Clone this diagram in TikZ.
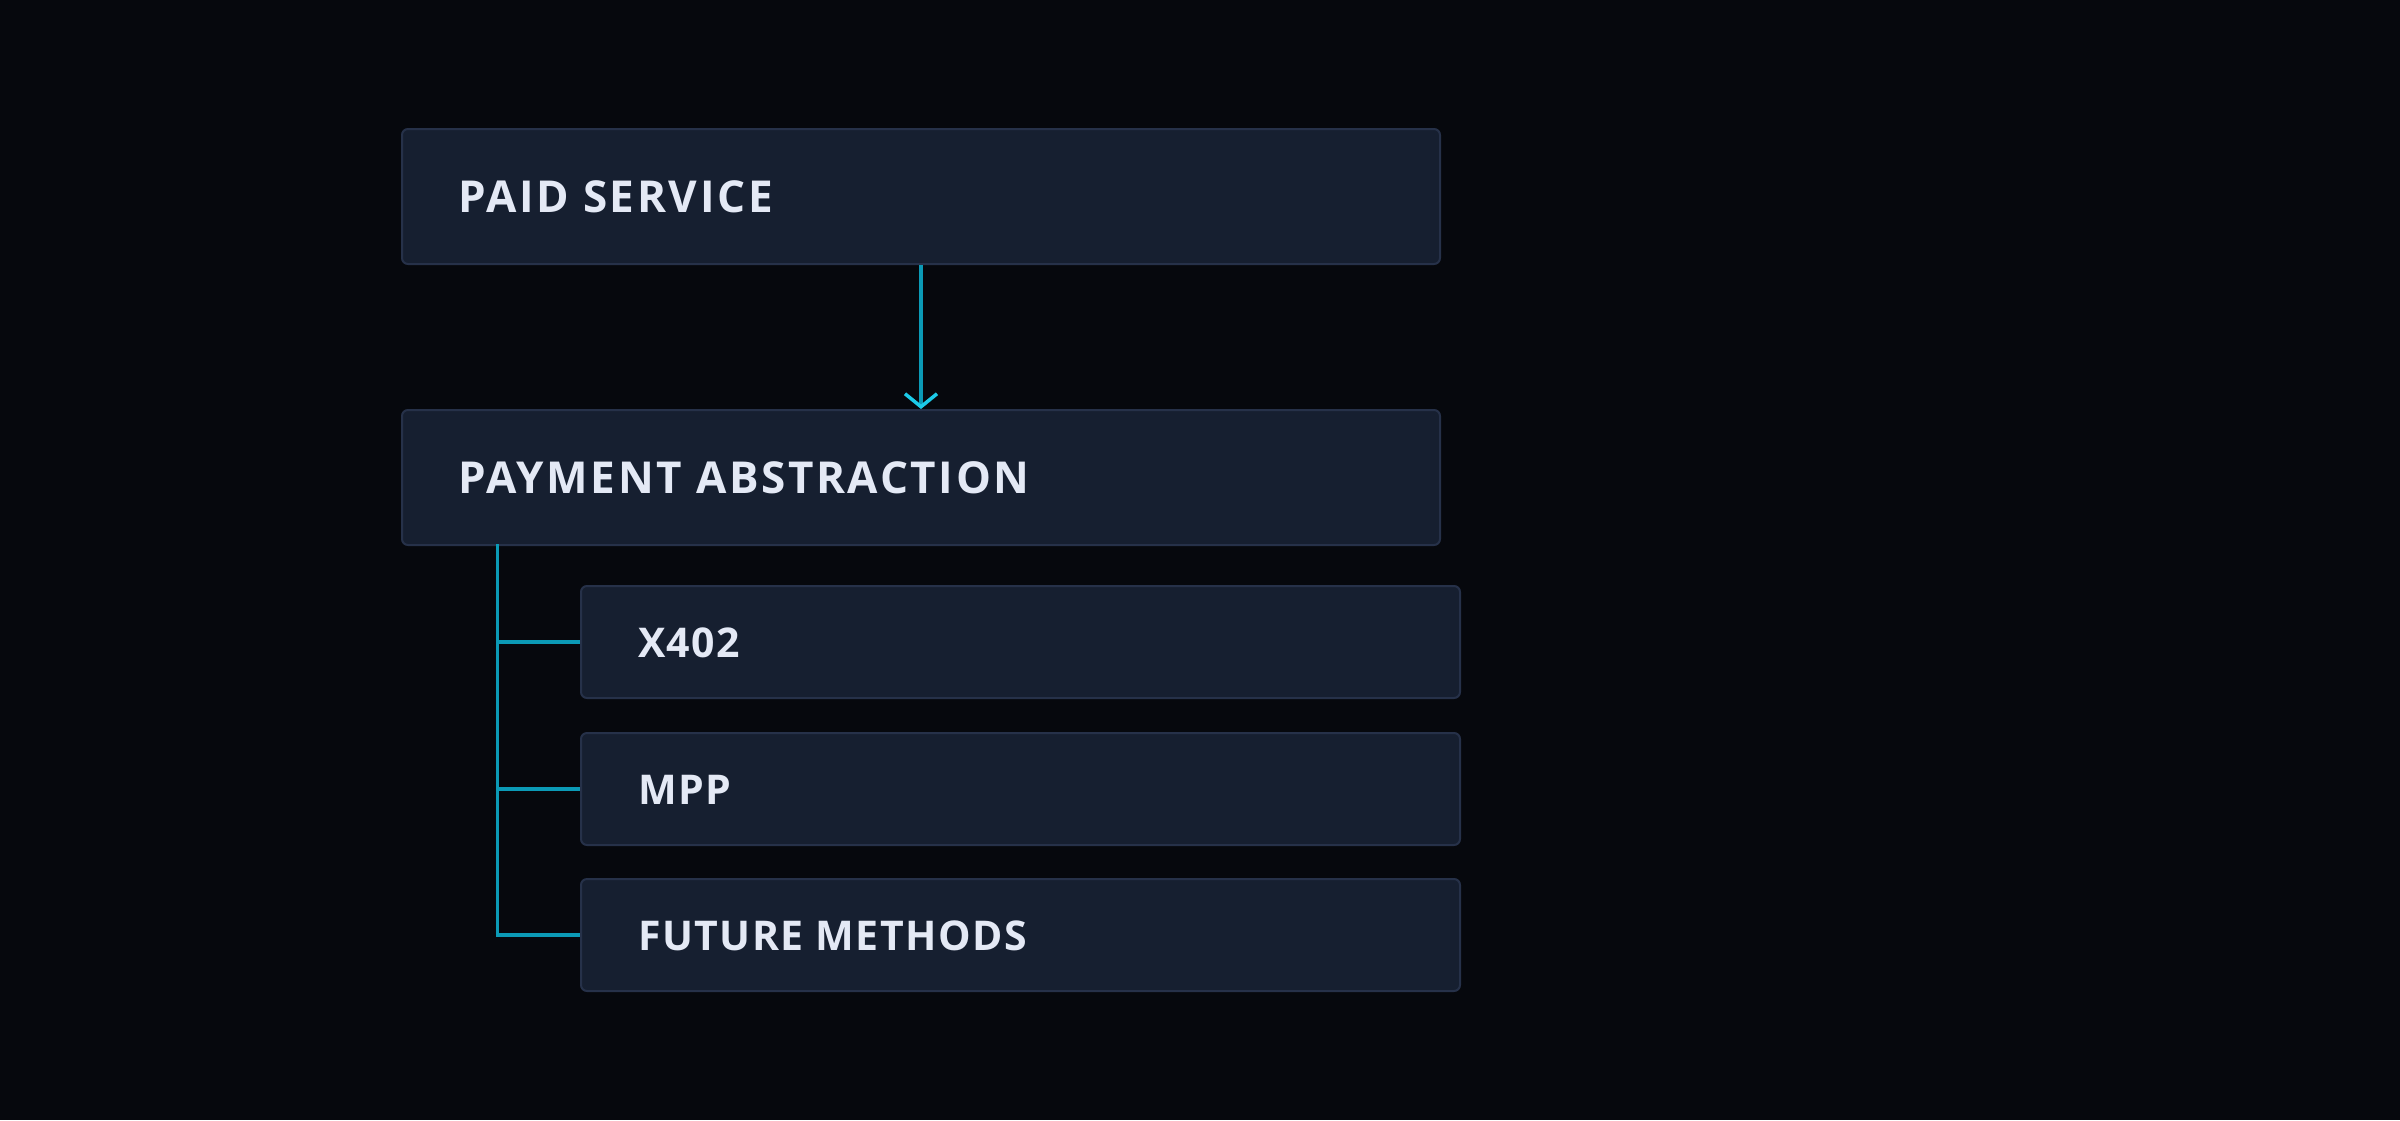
\documentclass[tikz,border=0pt]{standalone}
\usepackage{fontspec}
\setmainfont{Open Sans}
\usetikzlibrary{arrows.meta}
\definecolor{bgc}{HTML}{06080D}
\definecolor{boxfill}{HTML}{161F30}
\definecolor{boxline}{HTML}{263149}
\definecolor{txt}{HTML}{E4E9F5}
\definecolor{treec}{HTML}{0B9AB6}
\definecolor{arrc}{HTML}{1CCAE8}
\newfontfamily\lblfontA[LetterSpace=6]{Open Sans Bold}
\newfontfamily\lblfontB[LetterSpace=3.5]{Open Sans Bold}
\tikzset{
  boxnode/.style={draw=boxline, line width=2pt, fill=boxfill, rounded corners=6pt, anchor=north west, inner sep=0pt},
  lblbig/.style={text=txt, font=\lblfontA\fontsize{44}{50}\selectfont, inner sep=0pt, text height=32pt, text depth=0pt, anchor=west},
  lblsmall/.style={text=txt, font=\lblfontB\fontsize{41}{48}\selectfont, inner sep=0pt, text height=30pt, text depth=0pt, anchor=west},
  arrline/.style={draw=treec, line width=3.5pt, -{Straight Barb[length=13pt,width=32pt,line width=3.5pt,color=arrc]}},
  treeline/.style={draw=treec, line width=3.5pt}
}
\begin{document}
\begin{tikzpicture}[x=1pt,y=-1pt]
\fill[bgc] (0,0) rectangle (2400,1120);
\useasboundingbox (0,0) rectangle (2400,1120);
\node[boxnode, minimum width=1038pt, minimum height=135pt] (ps) at (401,128) {};
\node[lblbig] (pst) at ([xshift=57pt]ps.west) {PAID SERVICE};
\node[boxnode, minimum width=1038pt, minimum height=135pt] (pa) at (401,409) {};
\node[lblbig] (pat) at ([xshift=57pt]pa.west) {PAYMENT ABSTRACTION};
\node[boxnode, minimum width=879pt, minimum height=112pt] (xa) at (580,585) {};
\node[lblsmall] (xat) at ([xshift=58pt]xa.west) {X402};
\node[boxnode, minimum width=879pt, minimum height=112pt] (mp) at (580,732) {};
\node[lblsmall] (mpt) at ([xshift=58pt]mp.west) {MPP};
\node[boxnode, minimum width=879pt, minimum height=112pt] (fm) at (580,878) {};
\node[lblsmall] (fmt) at ([xshift=58pt]fm.west) {FUTURE METHODS};
\draw[arrline] (ps.south) -- (pa.north);
\coordinate (trunk) at (497.5,544);
\draw[treeline] (trunk) |- (fm.west);
\draw[treeline] (trunk |- xa.west) -- (xa.west);
\draw[treeline] (trunk |- mp.west) -- (mp.west);
\end{tikzpicture}
\end{document}
